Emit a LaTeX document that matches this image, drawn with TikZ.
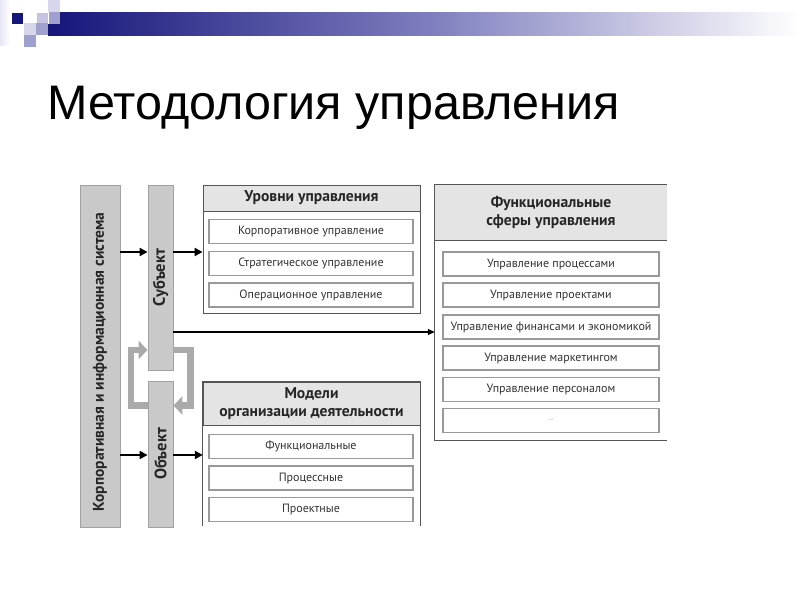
\documentclass[tikz,border=0pt]{standalone}
\usepackage{fontspec}
\setmainfont{Liberation Sans}
\newfontfamily\dfont{PT Sans}
\usetikzlibrary{arrows.meta}
\definecolor{navy}{HTML}{15157A}
\definecolor{midblue}{HTML}{7C7CBE}
\definecolor{lav1}{HTML}{D6D6EC}
\definecolor{lav2}{HTML}{A0A0CE}
\definecolor{lav3}{HTML}{C4C4E2}
\definecolor{barfill}{HTML}{C9C9C9}
\definecolor{barline}{HTML}{A2A2A2}
\definecolor{boxline}{HTML}{555555}
\definecolor{headfill}{HTML}{E4E4E4}
\definecolor{itemline}{HTML}{999999}
\definecolor{itemtext}{HTML}{333333}
\definecolor{loopcol}{HTML}{AAAAAA}
\tikzset{
  bar/.style={draw=barline, fill=barfill, line width=0.8pt, inner sep=0pt, font=\dfont\bfseries, text=black!85},
  head/.style={fill=headfill, inner sep=0pt, font=\dfont\bfseries\fontsize{15.6}{18.5}\selectfont, text=black!85, align=center},
  item/.style={draw=itemline, fill=white, line width=1.3pt, inner sep=0pt, minimum height=24pt, font=\dfont\fontsize{12}{14}\selectfont, text=itemtext},
  frame/.style={draw=boxline, line width=0.8pt},
  arr/.style={-{Triangle[length=8pt,width=8pt]}, line width=2.8pt, black},
  thinarr/.style={-{Triangle[length=7pt,width=6pt]}, line width=1.5pt, black},
  loop/.style={draw=loopcol, line width=6.5pt, line join=miter, -{Triangle[length=9pt,width=18pt]}},
}
\begin{document}
\begin{tikzpicture}[x=1pt,y=-1pt]
\useasboundingbox (0,0) rectangle (800,600);
\fill[white] (0,0) rectangle (800,600);
% top decoration
\shade[left color=lav1!60, right color=white] (0,0) rectangle (10,45);
\shade[left color=navy, right color=white, middle color=midblue] (48,12) rectangle (800,35);
\fill[lav1] (48,0) rectangle (60,12);
\fill[lav2] (48,12) rectangle (60,24);
\fill[navy] (12,13) rectangle (23,24);
\draw[white, fill=lav3, line width=0.8pt] (36,12) rectangle (48,23);
\fill[lav2] (36,23) rectangle (48,35);
\fill[lav1] (24,23) rectangle (36,35);
\fill[lav2] (24,35) rectangle (36,47);
% title
\node[anchor=base west, inner sep=0pt, font=\fontsize{48.5}{54}\selectfont] (title) at (47,119) {Методология управления};

% vertical bars
\node[bar, rotate=90, minimum width=342pt, minimum height=40pt] (kis) at (100,356) {};
\node[rotate=90, inner sep=0pt, font=\dfont\bfseries\fontsize{15.5}{17}\selectfont, text=black!85] (kist) at ([yshift=-6pt]kis.center) {Корпоративная и информационная система};
\node[bar, rotate=90, minimum width=185pt, minimum height=25pt, font=\dfont\bfseries\fontsize{16.5}{18}\selectfont] (subj) at (160.5,277.5) {Субъект};
\node[bar, rotate=90, minimum width=146pt, minimum height=25pt, font=\dfont\bfseries\fontsize{16.5}{18}\selectfont] (obj) at (160.5,454) {Объект};

% levels box
\node[frame, minimum width=217pt, minimum height=128pt, inner sep=0pt] (lev) at (311.5,249) {};
\node[head, draw=boxline, line width=0.8pt, minimum width=217pt, minimum height=26pt] (levh) at (311.5,198) {Уровни управления};
\node[item, minimum width=204pt] (lev1) at (311,231.5) {Корпоративное управление};
\node[item, minimum width=204pt] (lev2) at (311,263.5) {Стратегическое управление};
\node[item, minimum width=204pt] (lev3) at (311,295) {Операционное управление};

% models box
\node[inner sep=0pt, minimum width=217pt, minimum height=144pt] (mod) at (311.5,454) {};
\node[head, draw=boxline, line width=0.8pt, minimum width=217pt, minimum height=43pt] (modh) at (311.5,403.5) {Модели\\организации деятельности};
\draw[frame] (mod.south west) -- (mod.north west) -- (mod.north east) -- (mod.south east);
\node[item, minimum width=204pt] (mod1) at (311,446.5) {Функциональные};
\node[item, minimum width=204pt] (mod2) at (311,478) {Процессные};
\node[item, minimum width=204pt] (mod3) at (311,509.5) {Проектные};

% functional spheres box
\node[inner sep=0pt, minimum width=232pt, minimum height=255pt] (fun) at (551,312.5) {};
\node[head, minimum width=232pt, minimum height=55pt] (funh) at (551,212.5) {Функциональные\\сферы управления};
\draw[frame] (fun.north east) -- (fun.north west) -- (fun.south west) -- (fun.south east);
\draw[frame] (funh.south west) -- (funh.south east);
\node[item, minimum width=216pt] (fun1) at (551,264) {Управление процессами};
\node[item, minimum width=216pt] (fun2) at (551,295) {Управление проектами};
\node[item, minimum width=216pt] (fun3) at (551,327) {Управление финансами и экономикой};
\node[item, minimum width=216pt] (fun4) at (551,358) {Управление маркетингом};
\node[item, minimum width=216pt] (fun5) at (551,389.5) {Управление персоналом};
\node[item, minimum width=216pt, font=\dfont\fontsize{7}{8}\selectfont, text=black!45] (fun6) at (551,420.5) {...};

% arrows
\coordinate (ya) at (0,252);
\coordinate (yb) at (0,455);
\coordinate (yc) at (0,332);
\draw[arr] (kis.south |- ya) -- (subj.north |- ya);
\draw[arr] (subj.south |- ya) -- (lev.west |- ya);
\draw[arr] (kis.south |- yb) -- (obj.north |- yb);
\draw[arr] (obj.south |- yb) -- (mod.west |- yb);
\draw[thinarr] (subj.south |- yc) -- (fun.west |- yc);

% feedback loops
\coordinate (lt) at (131,350);
\coordinate (lb) at (131,405.5);
\coordinate (rt) at (190.5,350);
\coordinate (rb) at (190.5,405.5);
\draw[loop] (obj.north |- lb) -- (lb) -- (lt) -- (subj.north |- lt);
\draw[loop] (subj.south |- rt) -- (rt) -- (rb) -- (obj.south |- rb);
\end{tikzpicture}
\end{document}
